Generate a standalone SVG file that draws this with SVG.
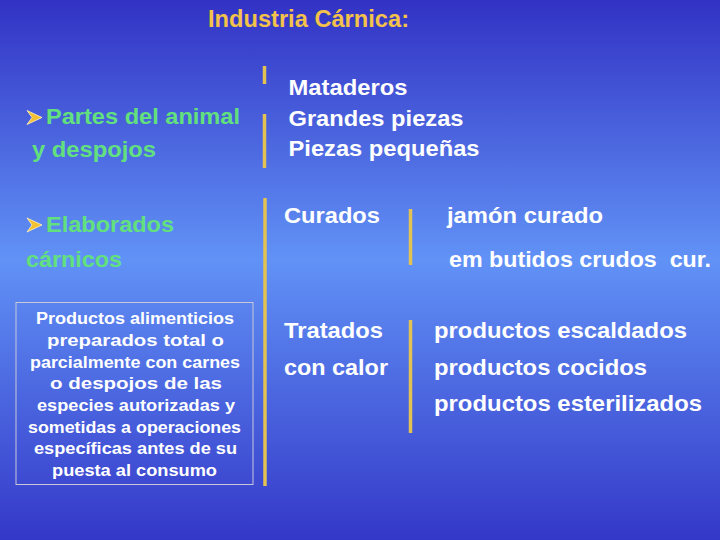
<svg xmlns="http://www.w3.org/2000/svg" width="720" height="540" viewBox="0 0 720 540">
<defs>
<linearGradient id="bg" x1="0" y1="0" x2="0" y2="1">
<stop offset="0" stop-color="#3232c4"/>
<stop offset="0.48" stop-color="#6192f6"/>
<stop offset="1" stop-color="#3438c8"/>
</linearGradient>
</defs>
<style>
text{font-family:"Liberation Sans",Arial,sans-serif;font-weight:bold}
.t{fill:#f2c24a;font-size:23px}
.g{fill:#62e07e;font-size:22px}
.w{fill:#ffffff;font-size:22px}
.b{fill:#ffffff;font-size:16px}
.bar{stroke:#e2c252;stroke-width:3.5;fill:none}
.bul{fill:#f2c030;stroke:#fff4c0;stroke-width:0.8}
</style>
<rect width="720" height="540" fill="url(#bg)"/>
<g id="title"><text class="t" x="208" y="27" textLength="201" lengthAdjust="spacingAndGlyphs">Industria Cárnica:</text></g>
<g id="partes">
<polygon class="bul" points="27,110.5 42,117.5 27,124.5 32,117.5"/>
<text class="g" x="46" y="124" textLength="194" lengthAdjust="spacingAndGlyphs">Partes del animal</text>
<text class="g" x="32" y="157" textLength="124" lengthAdjust="spacingAndGlyphs">y despojos</text>
</g>
<g id="elaborados">
<polygon class="bul" points="27,218 42,225 27,232 32,225"/>
<text class="g" x="46" y="231.5" textLength="128" lengthAdjust="spacingAndGlyphs">Elaborados</text>
<text class="g" x="26" y="267" textLength="96" lengthAdjust="spacingAndGlyphs">cárnicos</text>
</g>
<g id="definicion">
<rect x="16" y="302.5" width="237" height="182" fill="none" stroke="#c8c8d8" stroke-width="1"/>
<text class="b" x="36" y="324" textLength="198" lengthAdjust="spacingAndGlyphs">Productos alimenticios</text>
<text class="b" x="47" y="346" textLength="177" lengthAdjust="spacingAndGlyphs">preparados total o</text>
<text class="b" x="30" y="367.5" textLength="210" lengthAdjust="spacingAndGlyphs">parcialmente con carnes</text>
<text class="b" x="50" y="389" textLength="172" lengthAdjust="spacingAndGlyphs">o despojos de las</text>
<text class="b" x="37" y="411" textLength="198" lengthAdjust="spacingAndGlyphs">especies autorizadas y</text>
<text class="b" x="28" y="432.5" textLength="213" lengthAdjust="spacingAndGlyphs">sometidas a operaciones</text>
<text class="b" x="34" y="454" textLength="203" lengthAdjust="spacingAndGlyphs">específicas antes de su</text>
<text class="b" x="52" y="475.5" textLength="165" lengthAdjust="spacingAndGlyphs">puesta al consumo</text>
</g>
<g id="despiece">
<text class="w" x="288.5" y="95" textLength="119" lengthAdjust="spacingAndGlyphs">Mataderos</text>
<text class="w" x="288.5" y="126" textLength="175" lengthAdjust="spacingAndGlyphs">Grandes piezas</text>
<text class="w" x="288.5" y="155.5" textLength="191" lengthAdjust="spacingAndGlyphs">Piezas pequeñas</text>
</g>
<g id="curados">
<text class="w" x="284" y="223" textLength="96" lengthAdjust="spacingAndGlyphs">Curados</text>
<text class="w" x="447" y="223" textLength="156" lengthAdjust="spacingAndGlyphs">jamón curado</text>
<text class="w" x="449" y="267" textLength="262" lengthAdjust="spacingAndGlyphs" xml:space="preserve" style="white-space:pre">em butidos crudos  cur.</text>
</g>
<g id="tratados">
<text class="w" x="284" y="338" textLength="99" lengthAdjust="spacingAndGlyphs">Tratados</text>
<text class="w" x="284" y="375" textLength="104" lengthAdjust="spacingAndGlyphs">con calor</text>
<text class="w" x="434" y="338" textLength="253" lengthAdjust="spacingAndGlyphs">productos escaldados</text>
<text class="w" x="434" y="375" textLength="213" lengthAdjust="spacingAndGlyphs">productos cocidos</text>
<text class="w" x="434" y="411" textLength="268" lengthAdjust="spacingAndGlyphs">productos esterilizados</text>
</g>
<g id="connectors">
<line class="bar" x1="264.5" y1="66" x2="264.5" y2="84"/>
<line class="bar" x1="264.5" y1="114" x2="264.5" y2="168"/>
<line class="bar" x1="265" y1="198" x2="265" y2="486"/>
<line class="bar" x1="410.5" y1="209" x2="410.5" y2="265"/>
<line class="bar" x1="410.5" y1="320" x2="410.5" y2="433"/>
</g>
</svg>
